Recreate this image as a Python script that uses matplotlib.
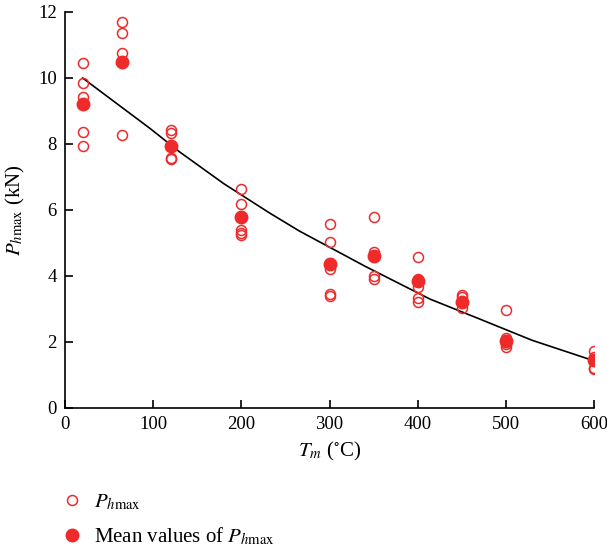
import matplotlib
matplotlib.use("Agg")
import matplotlib.pyplot as plt

plt.rcParams['font.family'] = ['Liberation Serif', 'DejaVu Serif']
plt.rcParams['mathtext.fontset'] = 'stix'

# Measured values (open circles)
T_vals = [20]*5 + [65]*4 + [120]*4 + [200]*5 + [300]*5 + [350]*4 + [400]*5 + [450]*3 + [500]*4 + [600]*4
P_vals = [10.45, 9.85, 9.42, 8.36, 7.94,
          11.70, 11.35, 10.77, 8.27,
          8.42, 8.33, 7.58, 7.55,
          6.64, 6.18, 5.39, 5.30, 5.24,
          5.58, 5.03, 4.22, 3.45, 3.39,
          5.79, 4.73, 4.00, 3.91,
          4.58, 3.90, 3.67, 3.33, 3.21,
          3.42, 3.36, 3.02,
          2.97, 2.12, 1.95, 1.85,
          1.73, 1.55, 1.20, 1.18]

# Mean values (filled circles)
T_mean = [20, 65, 120, 200, 300, 350, 400, 450, 500, 600]
P_mean = [9.20, 10.50, 7.94, 5.78, 4.36, 4.60, 3.85, 3.21, 2.03, 1.45]

# Fitted curve
T_fit = [20, 60, 96, 130, 180, 232, 266, 340, 414, 470, 530, 600]
P_fit = [10.0, 9.2, 8.48, 7.76, 6.80, 5.91, 5.36, 4.30, 3.30, 2.70, 2.05, 1.43]

red = '#EE2A2A'

fig = plt.figure(figsize=(6.07, 5.5), dpi=100)
ax = fig.add_axes([65/607, 1-408/550, (594-65)/607, (408-12)/550])

ax.plot(T_fit, P_fit, color='black', lw=1.2, zorder=2)
h1, = ax.plot(T_vals, P_vals, linestyle='none', marker='o', markersize=7.2,
              markerfacecolor='none', markeredgecolor=red, markeredgewidth=1.1, zorder=3)
h2, = ax.plot(T_mean, P_mean, linestyle='none', marker='o', markersize=9,
              markerfacecolor=red, markeredgecolor=red, zorder=4)

ax.set_xlim(0, 600)
ax.set_ylim(0, 12)
ax.set_xticks(range(0, 601, 100))
ax.set_yticks(range(0, 13, 2))
for s in ['top', 'right']:
    ax.spines[s].set_visible(False)
for s in ['left', 'bottom']:
    ax.spines[s].set_linewidth(1.2)
ax.tick_params(direction='in', length=6, width=1.2, labelsize=13.5, pad=6)

ax.set_xlabel(r'$T_m$ ($^{\circ}$C)', fontsize=15, labelpad=5)
ax.set_ylabel(r'$P_{h\mathrm{max}}$ (kN)', fontsize=15, labelpad=8)

fig.legend([h1, h2], [r'$P_{h\mathrm{max}}$', r'Mean values of $P_{h\mathrm{max}}$'],
           loc='upper left', bbox_to_anchor=(62/607, 1-493/550), frameon=False,
           fontsize=15, handlelength=1.0, handletextpad=0.55, labelspacing=0.6,
           borderaxespad=0, borderpad=0)

fig.savefig('out.png', dpi=100)
